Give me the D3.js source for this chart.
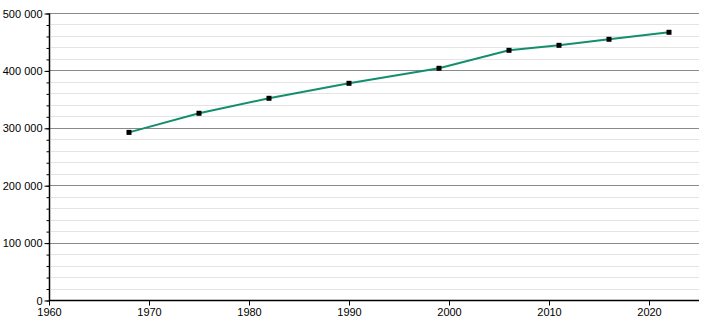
<!DOCTYPE html>
<html>
<head>
<meta charset="utf-8">
<script src="https://cdn.jsdelivr.net/npm/d3@7"></script>
<style>
  body { margin: 0; background: #fff; }
  svg text { font-family: "Liberation Sans", Arial, sans-serif; font-size: 11px; fill: #000; }
</style>
</head>
<body>
<div id="chart"></div>
<script>
// census years and population
var years = [1968, 1975, 1982, 1990, 1999, 2006, 2011, 2016, 2022];
var population = [292000, 325300, 351400, 377500, 403700, 435000, 443700, 454200, 466400];
var xTicks = [1960, 1970, 1980, 1990, 2000, 2010, 2020];
var yTicks = [0, 100000, 200000, 300000, 400000, 500000];

var width = 710, height = 320;
var margin = {top: 13, right: 10, bottom: 20, left: 49};

var svg = d3.select("#chart").append("svg")
    .attr("width", width)
    .attr("height", height);

var x = d3.scaleLinear()
    .domain([1960, 2025])
    .range([margin.left, margin.left + 650]);

var y = d3.scaleLinear()
    .domain([0, 500000])
    .range([300, margin.top]);

var minor = d3.range(0, 500001, 20000);
var fmt = function(d) { return d3.format(",")(d).replace(/,/g, " "); };

// minor grid lines
svg.append("g")
    .selectAll("line")
    .data(minor.filter(d => d % 100000 !== 0))
    .enter().append("line")
    .attr("x1", margin.left + 2)
    .attr("x2", x(2025))
    .attr("y1", d => Math.round(y(d)) + 0.5)
    .attr("y2", d => Math.round(y(d)) + 0.5)
    .attr("stroke", "#e4e4e4")
    .attr("stroke-width", 1);

// major grid lines
svg.append("g")
    .selectAll("line")
    .data(yTicks.filter(d => d > 0))
    .enter().append("line")
    .attr("x1", margin.left)
    .attr("x2", x(2025))
    .attr("y1", d => Math.round(y(d)) + 0.5)
    .attr("y2", d => Math.round(y(d)) + 0.5)
    .attr("stroke", "#8a8a8a")
    .attr("stroke-width", 1);

// y axis, minor ticks then labelled ticks
var yMinorAxis = svg.append("g")
    .attr("transform", `translate(${margin.left + 0.5},0.5)`)
    .call(d3.axisLeft(y).tickValues(minor).tickSize(3).tickFormat(""));
yMinorAxis.select(".domain").remove();

var yAxis = svg.append("g")
    .attr("transform", `translate(${margin.left + 0.5},0.5)`)
    .call(d3.axisLeft(y).tickValues(yTicks).tickSize(5).tickPadding(2).tickFormat(fmt));
yAxis.select(".domain").attr("d", `M0,${y(500000)}V${y(0)}`).attr("stroke-width", 1.5);
yAxis.selectAll("text").attr("font-size", null).attr("font-family", null);

// x axis
var xAxis = svg.append("g")
    .attr("transform", `translate(0,${y(0) + 0.5})`)
    .call(d3.axisBottom(x).tickValues(xTicks).tickSize(5).tickPadding(3).tickFormat(d3.format("d")));
xAxis.select(".domain").attr("d", `M${x(1960)},0H${x(2025)}`).attr("stroke-width", 1.5);
xAxis.selectAll("text").attr("font-size", null).attr("font-family", null);

var pts = years.map((d, i) => ({year: d, value: population[i]}));

// population line
svg.append("path")
    .datum(pts)
    .attr("fill", "none")
    .attr("stroke", "#138f6d")
    .attr("stroke-width", 2)
    .attr("d", d3.line().x(d => x(d.year)).y(d => y(d.value)));

// markers
svg.append("g")
    .selectAll("rect")
    .data(pts)
    .enter().append("rect")
    .attr("x", d => x(d.year) - 2.5)
    .attr("y", d => y(d.value) - 2.5)
    .attr("width", 5)
    .attr("height", 5)
    .attr("fill", "#000");
</script>
</body>
</html>
